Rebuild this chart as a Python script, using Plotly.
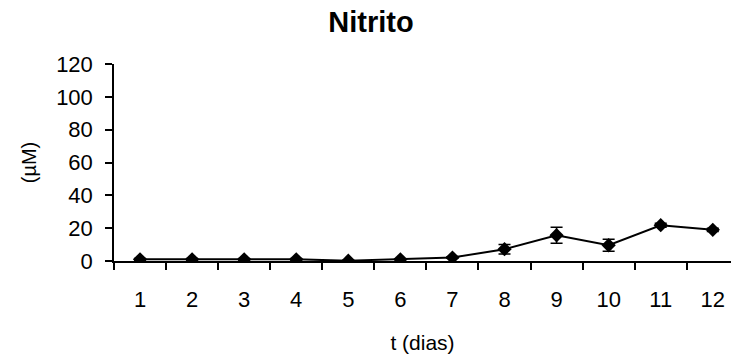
import plotly.graph_objects as go

days = ['1', '2', '3', '4', '5', '6', '7', '8', '9', '10', '11', '12']
nitrito = [1.0, 1.0, 1.0, 1.0, 0.2, 1.0, 2.1, 7.2, 15.7, 9.6, 21.8, 19.0]
err = [0.5, 0.5, 0.5, 0.5, 0.3, 0.3, 0.5, 2.9, 4.9, 3.7, 1.2, 1.0]
y_ticks = [0, 20, 40, 60, 80, 100, 120]

FONT = "Liberation Sans, Arial, sans-serif"

fig = go.Figure(go.Scatter(
    x=days, y=nitrito,
    mode="lines+markers",
    line=dict(color="black", width=2),
    marker=dict(symbol="diamond", size=11, color="black"),
    error_y=dict(type="data", array=err, visible=True, color="black", thickness=1.5, width=6),
    showlegend=False,
))

fig.update_layout(
    width=731, height=360,
    margin=dict(l=114, r=0, t=64, b=99),
    paper_bgcolor="white", plot_bgcolor="white",
    font=dict(family=FONT, size=22, color="black"),
    title=dict(text="<b>Nitrito</b>", x=0.5075, xref="container", xanchor="center",
               y=1 - 22 / 360, yref="container", yanchor="middle",
               font=dict(family=FONT, size=29, color="black")),
    xaxis=dict(
        type="category", range=[-0.5, 11.35], automargin=False,
        showline=True, linecolor="black", linewidth=1.5,
        ticks="outside", tickson="boundaries", ticklen=7, tickwidth=1.5, tickcolor="black",
        tickfont=dict(size=22), ticklabelstandoff=18,
        showgrid=False, zeroline=False,
        title=dict(text="t (dias)", standoff=24, font=dict(size=21)),
    ),
    yaxis=dict(
        range=[0, 120], tickvals=y_ticks, automargin=False,
        showline=True, linecolor="black", linewidth=1.5,
        ticks="outside", ticklen=7, tickwidth=1.5, tickcolor="black",
        tickfont=dict(size=22), ticklabelstandoff=8,
        showgrid=False, zeroline=False,
        title=dict(text="(µM)", standoff=14, font=dict(size=20)),
    ),
)

fig.write_html("out.html", config={"displayModeBar": False},
               post_script="document.body.style.margin='0';document.body.style.overflow='hidden';")
